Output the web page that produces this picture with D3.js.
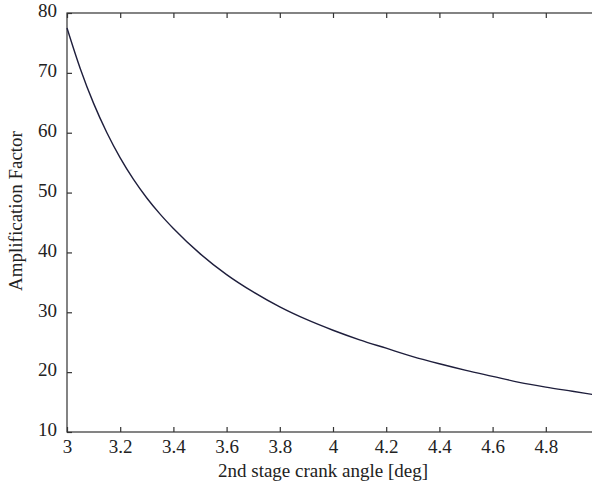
<!DOCTYPE html>
<html>
<head>
<meta charset="utf-8">
<script src="https://cdn.jsdelivr.net/npm/d3@7"></script>
<style>
  html, body { margin: 0; padding: 0; background: #fff; }
  svg { display: block; }
  svg text { font-family: "Liberation Serif", "DejaVu Serif", serif; fill: #222; }
</style>
</head>
<body>
<svg id="chart" width="592" height="488"></svg>
<script>
const angles = [3.0, 3.05, 3.1, 3.15, 3.2, 3.25, 3.3, 3.35, 3.4, 3.5, 3.6, 3.7, 3.8, 3.9, 4.0, 4.1, 4.2, 4.3, 4.4, 4.5, 4.6, 4.7, 4.8, 4.9, 5.0];
const factors = [77.5, 70.7, 64.9, 60.0, 55.8, 52.2, 49.1, 46.4, 44.0, 39.8, 36.3, 33.4, 30.9, 28.8, 27.0, 25.4, 24.0, 22.6, 21.4, 20.3, 19.3, 18.3, 17.5, 16.8, 16.1];
const xTicks = [3, 3.2, 3.4, 3.6, 3.8, 4, 4.2, 4.4, 4.6, 4.8, 5];
const yTicks = [10, 20, 30, 40, 50, 60, 70, 80];
const xLabel = "2nd stage crank angle [deg]";
const yLabel = "Amplification Factor";

const FONT = '"Liberation Serif", "DejaVu Serif", serif';
const svg = d3.select("#chart").attr("font-family", FONT);
const L = 67, R = 599, T = 13, B = 432;
const x = d3.scaleLinear().domain([3, 5]).range([L, R]);
const y = d3.scaleLinear().domain([10, 80]).range([B, T]);
const axisColor = "#333";
const fs = 19;

// frame
svg.append("rect").attr("x", L).attr("y", T).attr("width", R - L).attr("height", B - T)
  .attr("fill", "none").attr("stroke", axisColor).attr("stroke-width", 1.2);

// bottom axis
const gx = svg.append("g").attr("transform", `translate(0,${B})`)
  .call(d3.axisBottom(x).tickValues(xTicks).tickSizeInner(-5).tickSizeOuter(0).tickPadding(8)
    .tickFormat(d3.format("~g")));
gx.attr("font-family", FONT).attr("font-size", fs);
gx.select(".domain").remove();
gx.selectAll("line").attr("stroke", axisColor).attr("stroke-width", 1.2);
gx.selectAll("text").attr("fill", "#222");

// top ticks
const gt = svg.append("g").attr("transform", `translate(0,${T})`)
  .call(d3.axisTop(x).tickValues(xTicks).tickSizeInner(-5).tickSizeOuter(0).tickFormat(""));
gt.select(".domain").remove();
gt.selectAll("line").attr("stroke", axisColor).attr("stroke-width", 1.2);

// left axis
const gy = svg.append("g").attr("transform", `translate(${L},0)`)
  .call(d3.axisLeft(y).tickValues(yTicks).tickSizeInner(-5).tickSizeOuter(0).tickPadding(10));
gy.attr("font-family", FONT).attr("font-size", fs);
gy.select(".domain").remove();
gy.selectAll("line").attr("stroke", axisColor).attr("stroke-width", 1.2);
gy.selectAll("text").attr("fill", "#222").attr("dy", "0.2em");

// right ticks
const gr = svg.append("g").attr("transform", `translate(${R},0)`)
  .call(d3.axisRight(y).tickValues(yTicks).tickSizeInner(-5).tickSizeOuter(0).tickFormat(""));
gr.select(".domain").remove();
gr.selectAll("line").attr("stroke", axisColor);

// curve
const data = angles.map((a, i) => ({ a, f: factors[i] }));
svg.append("path").datum(data)
  .attr("fill", "none").attr("stroke", "#1e1e3c").attr("stroke-width", 1.4)
  .attr("d", d3.line().x(d => x(d.a)).y(d => y(d.f)).curve(d3.curveMonotoneX));

// labels
svg.append("text").attr("x", 323).attr("y", 477).attr("text-anchor", "middle")
  .attr("font-size", fs).text(xLabel);
svg.append("text").attr("transform", "translate(22,211) rotate(-90)").attr("text-anchor", "middle")
  .attr("font-size", fs).text(yLabel);
</script>
</body>
</html>
